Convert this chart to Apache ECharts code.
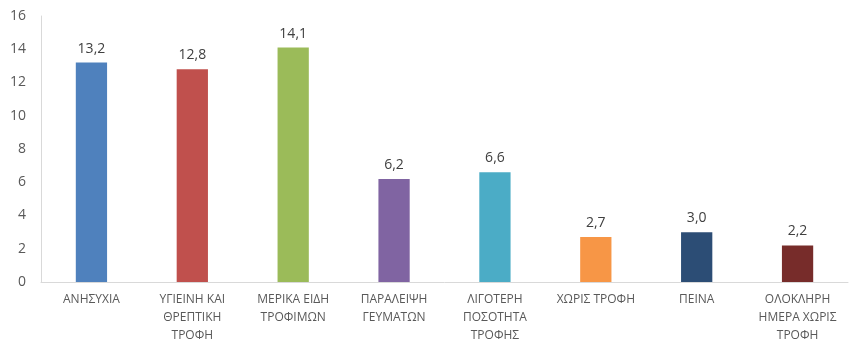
<!DOCTYPE html>
<html><head><meta charset="utf-8">
<script src="https://cdn.jsdelivr.net/npm/echarts@6/dist/echarts.min.js"></script>
<style>html,body{margin:0;padding:0;background:#fff}#c{width:868px;height:355px}</style>
</head><body><div id="c"></div>
<script>
const categories = ["ΑΝΗΣΥΧΙΑ", "ΥΓΙΕΙΝΗ ΚΑΙ\nΘΡΕΠΤΙΚΗ\nΤΡΟΦΗ", "ΜΕΡΙΚΑ ΕΙΔΗ\nΤΡΟΦΙΜΩΝ", "ΠΑΡΑΛΕΙΨΗ\nΓΕΥΜΑΤΩΝ", "ΛΙΓΟΤΕΡΗ\nΠΟΣΟΤΗΤΑ\nΤΡΟΦΗΣ", "ΧΩΡΙΣ ΤΡΟΦΗ", "ΠΕΙΝΑ", "ΟΛΟΚΛΗΡΗ\nΗΜΕΡΑ ΧΩΡΙΣ\nΤΡΟΦΗ"];
const values = [13.2, 12.8, 14.1, 6.2, 6.6, 2.7, 3.0, 2.2];
const barColors = ["#4F81BD", "#C0504D", "#9BBB59", "#8064A2", "#4BACC6", "#F79646", "#2C4D75", "#772C2A"];
const yTicks = [0, 2, 4, 6, 8, 10, 12, 14, 16];

const chart = echarts.init(document.getElementById('c'), null, {renderer: 'canvas'});
chart.setOption({
  animation: false,
  textStyle: {fontFamily: 'Open Sans'},
  grid: {left: 41, right: 20, top: 16, bottom: 73, containLabel: false},
  xAxis: {
    type: 'category', data: categories,
    axisLine: {show: true, lineStyle: {color: '#D9D9D9', width: 1}},
    axisTick: {show: false},
    axisLabel: {color: '#595959', fontSize: 12, lineHeight: 18, margin: 9, interval: 0, fontFamily: 'Open Sans'}
  },
  yAxis: {
    type: 'value', min: yTicks[0], max: yTicks[yTicks.length - 1], interval: 2,
    axisLine: {show: true, lineStyle: {color: '#D9D9D9', width: 1}},
    axisTick: {show: false},
    splitLine: {show: false},
    axisLabel: {color: '#595959', fontSize: 14, margin: 15, fontFamily: 'Open Sans'}
  },
  series: [{
    type: 'bar',
    data: values.map((v, i) => ({value: v, itemStyle: {color: barColors[i]}})),
    barWidth: '31%',
    label: {show: true, position: 'top', distance: 7, color: '#404040', fontSize: 14, fontFamily: 'Open Sans',
      formatter: p => p.value.toFixed(1).replace('.', ',')}
  }]
});
</script></body></html>
